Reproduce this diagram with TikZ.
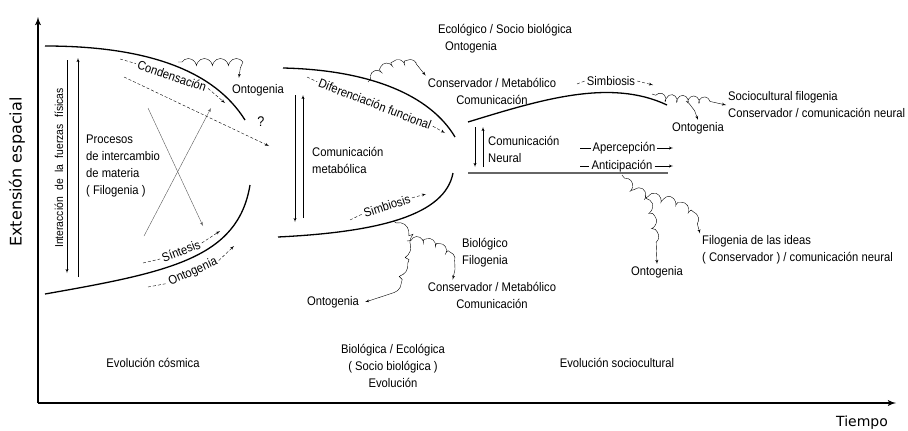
\documentclass[tikz,border=0pt]{standalone}
\usepackage{fontspec}
\setmainfont{Liberation Sans}[FakeStretch=0.9]
\newfontfamily\axisfont{DejaVu Sans}
\usepackage{tikz}
\usetikzlibrary{arrows,positioning,calc,decorations.pathmorphing}

\begin{document}
\begin{tikzpicture}[x=1pt, y=-1pt,
    lbl/.style={font=\fontsize{12.5}{17}\selectfont, inner sep=2pt, align=left},
    clbl/.style={font=\fontsize{12.5}{17}\selectfont, inner sep=2pt, align=center},
    axis/.style={line width=1.8pt, -latex'},
    curve/.style={line width=1.3pt},
    band/.style={line width=2.6pt, draw=gray!80!black},
    line/.style={draw, -latex', thin},
    lead/.style={draw, densely dashed, thin},
    curl/.style={draw, -latex', thin, decorate, decoration={coil, amplitude=3.5pt, segment length=#1, aspect=0.7, pre length=4pt, post length=10pt}},
    curl/.default=16pt]

    \useasboundingbox (0,0) rectangle (908,431);

    % Axes
    \coordinate (origin) at (38,403);
    \coordinate (ytop) at (38,17);
    \coordinate (xend) at (896,403);
    \draw [axis] (origin) -- (ytop);
    \draw [axis] (origin) -- (xend);
    \node [font=\axisfont\fontsize{16}{18}\selectfont, rotate=90] (ylabel) at (17,172) {Extensión espacial};
    \node [font=\axisfont\fontsize{14}{16}\selectfont] (xlabel) at (862,423) {Tiempo};

    % Cosmic evolution - the two bounding curves
    \draw [curve] (45,46) .. controls (150,46) and (215,72) .. (245,120);
    \draw [curve] (45,294) .. controls (170,272) and (238,258) .. (250,185);

    \node [font={\fontsize{11.5}{13}\selectfont\spaceskip=6.5pt}, rotate=90] (fuerzas) at (59,168) {Interacción de la fuerzas físicas};
    \coordinate (f1) at (67,60);
    \coordinate (f2) at (67,273);
    \coordinate (f3) at (78,277);
    \coordinate (f4) at (78,58);
    \path [line] (f1) -- (f2);
    \path [line] (f3) -- (f4);

    \node [lbl, anchor=west] (procesos) at (84,166) {Procesos\\de intercambio\\de materia\\( Filogenia )};

    % crossing arrows
    \coordinate (x1) at (148,108);
    \coordinate (x2) at (203,226);
    \coordinate (x3) at (144,236);
    \coordinate (x4) at (211,108);
    \path [line, gray!70!black] (x1) -- (x2);
    \path [line, gray!70!black] (x3) -- (x4);

    \node [font=\fontsize{14}{16}\selectfont] (q) at (261,122) {?};
    \coordinate (d1) at (124,77);
    \coordinate (d2) at (269,146);
    \path [line, densely dashed] (d1) -- (d2);

    \node [lbl, rotate=-19] (cond) at (172,76) {Condensación};
    \path [lead] (120,59) -- (cond.west);
    \path [lead, -latex'] (cond.east) -- (225,103);

    \node [lbl] (ont1) at (258,90) {Ontogenia};
    \coordinate (c1) at (178,62);
    \path [curl] (c1) -- (234,62) .. controls (240,62) and (242,66) .. ([xshift=9pt, yshift=4pt]ont1.north west);

    \node [lbl, rotate=21] (sint) at (181,251) {Síntesis};
    \path [lead] (143,263) -- (sint.west);
    \path [lead, -latex'] (sint.east) -- (220,231);

    \node [lbl, rotate=24] (ont0) at (193,272) {Ontogenia};
    \path [lead] (148,287) -- (ont0.west);
    \path [lead, -latex'] (ont0.east) -- (234,246);

    \node [clbl] (cosm) at (153,363) {Evolución cósmica};

    % Biological evolution
    \draw [curve] (283,68) .. controls (370,70) and (430,95) .. (455,137);
    \draw [curve] (278,237) .. controls (380,232) and (445,215) .. (453,173);

    \coordinate (m1) at (295,95);
    \coordinate (m2) at (295,222);
    \coordinate (m3) at (303,218);
    \coordinate (m4) at (303,95);
    \path [line] (m1) -- (m2);
    \path [line] (m3) -- (m4);

    \node [lbl, anchor=west] (metab) at (310,160) {Comunicación\\metabólica};

    \node [lbl, rotate=-21] (dif) at (375,104) {Diferenciación funcional};
    \path [lead] (307,77) -- (dif.west);
    \path [lead, -latex'] (dif.east) -- (445,133);

    \node [lbl, rotate=18] (simb1) at (387,206) {Simbiosis};
    \path [lead] (350,220) -- (simb1.west);
    \path [lead, -latex'] (simb1.east) -- (426,194);

    \node [clbl] (eco) at (505,30) {Ecológico / Socio biológica};
    \node [clbl] (ont3) at (471,47) {Ontogenia};
    \node [clbl] (cons1) at (492,91) {Conservador / Metabólico\\Comunicación};

    \coordinate (c2) at (368,82);
    \path [curl=13pt] (c2) .. controls (380,68) and (390,63) .. (405,63) -- (418,64) .. controls (424,64) and (427,68) .. (cons1.north west);

    \node [lbl, anchor=west] (bio) at (460,253) {Biológico\\Filogenia};
    \node [clbl] (cons2) at (492,295) {Conservador / Metabólico\\Comunicación};
    \node [clbl] (ont2) at (333,302) {Ontogenia};

    \coordinate (c3) at (393,221);
    \coordinate (c4) at (407,241);
    \path [curl=20pt] (c3) .. controls (408,228) and (408,245) .. (405,262) .. controls (402,280) and (395,292) .. (382,297) -- ([xshift=4pt]ont2.east);
    \path [curl=13pt] (c4) .. controls (425,238) and (446,245) .. (453,262) -- ([xshift=27pt]cons2.north west);

    \node [clbl] (evbio) at (393,366) {Biológica / Ecológica\\( Socio biológica )\\Evolución};

    % Sociocultural evolution
    \draw [curve] (468,122) .. controls (540,100) and (610,78) .. (667,105);
    \draw [band] (468,173) -- (668,173);

    \coordinate (n1) at (475,127);
    \coordinate (n2) at (475,167);
    \coordinate (n3) at (483,167);
    \coordinate (n4) at (483,127);
    \path [line] (n1) -- (n2);
    \path [line] (n3) -- (n4);

    \node [lbl, anchor=west] (neural) at (486,149) {Comunicación\\Neural};

    \node [lbl] (simb2) at (611,81) {Simbiosis};
    \path [lead] (577,84) -- (simb2.west);
    \path [lead, -latex'] (simb2.east) -- (653,85);

    \node [lbl] (aperc) at (624,148) {Apercepción};
    \path [draw, thin] (580,148) -- (aperc.west);
    \path [line] (aperc.east) -- (673,148);

    \node [lbl] (antic) at (622,166) {Anticipación};
    \path [draw, thin] (580,166) -- (antic.west);
    \path [line] (antic.east) -- (673,166);

    \node [lbl, anchor=west] (soc) at (726,105) {Sociocultural filogenia\\Conservador / comunicación neural};
    \node [clbl] (ont4) at (698,128) {Ontogenia};

    \coordinate (c5) at (652,94);
    \coordinate (c6) at (686,101);
    \path [curl=11pt] (c5) .. controls (668,100) and (690,98) .. (708,101) -- (soc.west);
    \path [curl=10pt] (c6) .. controls (690,104) and (695,108) .. (ont4.north);

    \node [lbl, anchor=west] (ideas) at (700,250) {Filogenia de las ideas\\( Conservador ) / comunicación neural};
    \node [clbl] (ont5) at (657,272) {Ontogenia};

    \coordinate (c7) at (622,175);
    \coordinate (c8) at (645,195);
    \path [curl=15pt] (c7) .. controls (630,186) and (640,192) .. (650,195) .. controls (672,200) and (695,205) .. (ideas.north west);
    \path [curl=16pt] (c8) .. controls (652,210) and (656,230) .. (ont5.north);

    \node [clbl] (evsoc) at (617,363) {Evolución sociocultural};
\end{tikzpicture}
\end{document}
